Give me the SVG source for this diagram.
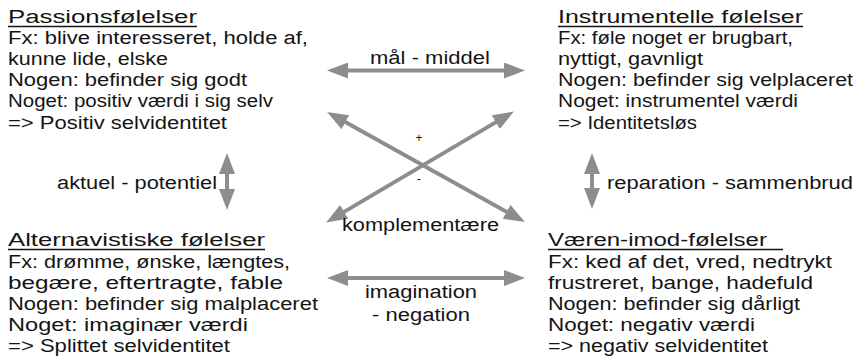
<svg xmlns="http://www.w3.org/2000/svg" width="859" height="361" viewBox="0 0 859 361">
<defs>
<style>
text{font-family:"Liberation Sans",Arial,sans-serif;font-size:18px;fill:#141414;}
.ul{stroke:#141414;stroke-width:1.4;}
.conn{stroke:#8b8e91;stroke-width:4;fill:none;marker-start:url(#ah);marker-end:url(#ah);}
.sm{font-size:12px;}
</style>
<marker id="ah" markerUnits="userSpaceOnUse" markerWidth="21" markerHeight="16" refX="10" refY="8" orient="auto-start-reverse" viewBox="0 0 21 16">
<path d="M0,0 L21,8 L0,16 z" fill="#8b8e91"/>
</marker>
</defs>
<rect width="859" height="361" fill="#ffffff"/>

<g id="node-passion">
<text x="8" y="23" textLength="189" lengthAdjust="spacingAndGlyphs">Passionsfølelser</text>
<line class="ul" x1="8" y1="26.5" x2="197" y2="26.5"/>
<text x="8" y="44" textLength="300" lengthAdjust="spacingAndGlyphs">Fx: blive interesseret, holde af,</text>
<text x="8" y="65" textLength="160" lengthAdjust="spacingAndGlyphs">kunne lide, elske</text>
<text x="8" y="86" textLength="239" lengthAdjust="spacingAndGlyphs">Nogen: befinder sig godt</text>
<text x="8" y="107" textLength="265" lengthAdjust="spacingAndGlyphs">Noget: positiv værdi i sig selv</text>
<text x="8" y="129" textLength="219" lengthAdjust="spacingAndGlyphs">=&gt; Positiv selvidentitet</text>
</g>

<g id="node-instrumental">
<text x="558" y="23" textLength="245" lengthAdjust="spacingAndGlyphs">Instrumentelle følelser</text>
<line class="ul" x1="558" y1="26.5" x2="803" y2="26.5"/>
<text x="558" y="44" textLength="235" lengthAdjust="spacingAndGlyphs">Fx: føle noget er brugbart,</text>
<text x="558" y="65" textLength="145" lengthAdjust="spacingAndGlyphs">nyttigt, gavnligt</text>
<text x="558" y="86" textLength="295" lengthAdjust="spacingAndGlyphs">Nogen: befinder sig velplaceret</text>
<text x="558" y="107" textLength="240" lengthAdjust="spacingAndGlyphs">Noget: instrumentel værdi</text>
<text x="558" y="129" textLength="139" lengthAdjust="spacingAndGlyphs">=&gt; Identitetsløs</text>
</g>

<g id="node-alternative">
<text x="8" y="246" textLength="257" lengthAdjust="spacingAndGlyphs">Alternavistiske følelser</text>
<line class="ul" x1="8" y1="249.5" x2="265" y2="249.5"/>
<text x="8" y="267.5" textLength="282" lengthAdjust="spacingAndGlyphs">Fx: drømme, ønske, længtes,</text>
<text x="8" y="288.5" textLength="275" lengthAdjust="spacingAndGlyphs">begære, eftertragte, fable</text>
<text x="8" y="309.5" textLength="310" lengthAdjust="spacingAndGlyphs">Nogen: befinder sig malplaceret</text>
<text x="8" y="330.5" textLength="240" lengthAdjust="spacingAndGlyphs">Noget: imaginær værdi</text>
<text x="8" y="351.5" textLength="222" lengthAdjust="spacingAndGlyphs">=&gt; Splittet selvidentitet</text>
</g>

<g id="node-against">
<text x="548" y="246" textLength="219" lengthAdjust="spacingAndGlyphs">Væren-imod-følelser</text>
<line class="ul" x1="548" y1="249.5" x2="783" y2="249.5"/>
<text x="548" y="267.5" textLength="284" lengthAdjust="spacingAndGlyphs">Fx: ked af det, vred, nedtrykt</text>
<text x="548" y="288.5" textLength="265" lengthAdjust="spacingAndGlyphs">frustreret, bange, hadefuld</text>
<text x="548" y="309.5" textLength="252" lengthAdjust="spacingAndGlyphs">Nogen: befinder sig dårligt</text>
<text x="548" y="330.5" textLength="207" lengthAdjust="spacingAndGlyphs">Noget: negativ værdi</text>
<text x="548" y="351.5" textLength="220" lengthAdjust="spacingAndGlyphs">=&gt; negativ selvidentitet</text>
</g>

<g id="connectors">
<line class="conn" x1="338" y1="70.5" x2="514" y2="70.5"/>
<line class="conn" x1="338" y1="278" x2="514" y2="278"/>
<line class="conn" x1="227" y1="164" x2="227" y2="199"/>
<line class="conn" x1="592" y1="164" x2="592" y2="198"/>
<line class="conn" x1="336.7" y1="117.3" x2="515.3" y2="216.7"/>
<line class="conn" x1="504.4" y1="117.1" x2="335.6" y2="216.9"/>
<text x="370" y="64" textLength="120" lengthAdjust="spacingAndGlyphs">mål - middel</text>
<text x="342" y="230.5" textLength="157" lengthAdjust="spacingAndGlyphs">komplementære</text>
<text x="365" y="298" textLength="112" lengthAdjust="spacingAndGlyphs">imagination</text>
<text x="372" y="321" textLength="98" lengthAdjust="spacingAndGlyphs">- negation</text>
<text x="57" y="189" textLength="160" lengthAdjust="spacingAndGlyphs">aktuel - potentiel</text>
<text x="607" y="189" textLength="246" lengthAdjust="spacingAndGlyphs">reparation - sammenbrud</text>
<text class="sm" x="419" y="142" text-anchor="middle">+</text>
<text class="sm" x="419" y="183" text-anchor="middle">-</text>
</g>
</svg>
